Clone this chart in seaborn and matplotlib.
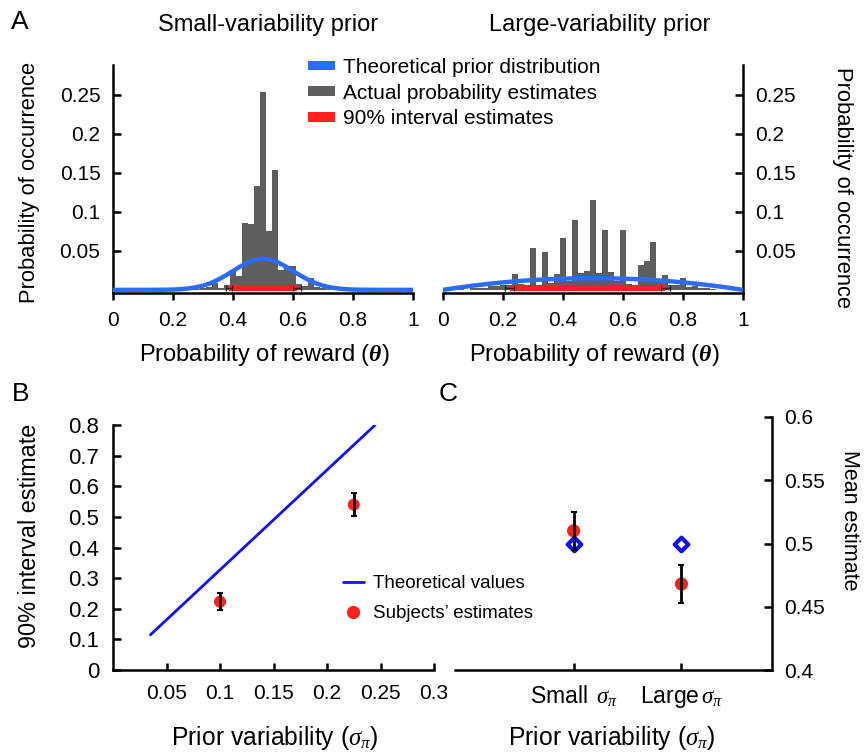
import numpy as np
import pandas as pd
import matplotlib
matplotlib.use("Agg")
import matplotlib.pyplot as plt
from matplotlib.patches import Patch
from matplotlib.lines import Line2D
import seaborn as sns

sns.set_theme(style="white")
plt.rcParams['font.family'] = ['Liberation Sans', 'DejaVu Sans']
plt.rcParams['mathtext.fontset'] = 'custom'
plt.rcParams['mathtext.rm'] = 'Liberation Sans'
plt.rcParams['mathtext.it'] = 'Liberation Serif:italic'
plt.rcParams['mathtext.bf'] = 'Liberation Serif:bold:italic'
plt.rcParams['mathtext.bfit'] = 'Liberation Serif:bold:italic'
for k in ['text.color', 'axes.labelcolor', 'xtick.color', 'ytick.color']:
    plt.rcParams[k] = 'black'

# ---------------- data ----------------
# Panel A: histograms of probability estimates (bin centers, heights)
small_centers = [0.28, 0.30, 0.32, 0.34, 0.36, 0.38, 0.40, 0.42, 0.44, 0.46, 0.48, 0.50,
                 0.52, 0.54, 0.56, 0.58, 0.60, 0.62, 0.64, 0.66, 0.68, 0.70, 0.72]
small_heights = [0.001, 0.002, 0.004, 0.0085, 0.003, 0.006, 0.026, 0.018, 0.086, 0.085, 0.133, 0.253,
                 0.076, 0.153, 0.026, 0.031, 0.031, 0.007, 0.005, 0.015, 0.004, 0.003, 0.001]
large_centers = [0.06, 0.10, 0.12, 0.14, 0.16, 0.18, 0.20, 0.22, 0.24, 0.26, 0.28, 0.30,
                 0.32, 0.34, 0.36, 0.38, 0.40, 0.42, 0.44, 0.46, 0.48, 0.50, 0.52, 0.54,
                 0.56, 0.58, 0.60, 0.62, 0.64, 0.66, 0.68, 0.70, 0.72, 0.74, 0.76, 0.78,
                 0.80, 0.82, 0.84, 0.86, 0.88, 0.90]
large_heights = [0.001, 0.002, 0.003, 0.003, 0.005, 0.005, 0.006, 0.006, 0.020, 0.008, 0.005, 0.054,
                 0.005, 0.048, 0.009, 0.020, 0.066, 0.012, 0.089, 0.022, 0.024, 0.115, 0.022, 0.077,
                 0.023, 0.012, 0.077, 0.008, 0.006, 0.032, 0.037, 0.061, 0.010, 0.019, 0.006, 0.006,
                 0.015, 0.004, 0.005, 0.003, 0.003, 0.001]

# theoretical prior curves
small_prior_x = [0.0, 0.1, 0.125, 0.15, 0.175, 0.2, 0.225, 0.25, 0.275, 0.3, 0.325, 0.35, 0.375,
                 0.4, 0.425, 0.45, 0.475, 0.5, 0.525, 0.55, 0.575, 0.6, 0.625, 0.65, 0.675,
                 0.7, 0.725, 0.75, 0.775, 0.8, 0.825, 0.85, 0.875, 0.9, 1.0]
small_prior_y = [0.0, 0.0, 0.0, 0.0001, 0.0002, 0.0004, 0.0009, 0.0018, 0.0032, 0.0054, 0.0086, 0.0130, 0.0183,
                 0.0242, 0.0301, 0.0352, 0.0387, 0.0399, 0.0387, 0.0352, 0.0301, 0.0242, 0.0183, 0.0130, 0.0086,
                 0.0054, 0.0032, 0.0018, 0.0009, 0.0004, 0.0002, 0.0001, 0.0, 0.0, 0.0]
large_prior_x = [0.0, 0.05, 0.1, 0.15, 0.2, 0.25, 0.3, 0.35, 0.4, 0.45, 0.5,
                 0.55, 0.6, 0.65, 0.7, 0.75, 0.8, 0.85, 0.9, 0.95, 1.0]
large_prior_y = [0.0, 0.00285, 0.0054, 0.00765, 0.0096, 0.01125, 0.0126, 0.01365, 0.0144, 0.01485, 0.015,
                 0.01485, 0.0144, 0.01365, 0.0126, 0.01125, 0.0096, 0.00765, 0.0054, 0.00285, 0.0]

# 90% interval estimates (low, high) with SE of the ends
small_interval = [0.385, 0.612]
small_interval_err = [0.010, 0.013]
large_interval = [0.222, 0.740]
large_interval_err = [0.015, 0.015]

# Panel B
theory_sigma = [0.035, 0.245]
theory_width = [0.115, 0.800]
subj_sigma = [0.100, 0.225]
subj_width = [0.223, 0.540]
subj_width_err = [0.028, 0.038]

# Panel C
c_labels = [r'Small $\,\sigma_\pi$', r'Large$\,\sigma_\pi$']
c_theory = [0.5, 0.5]
c_subj = [0.510, 0.468]
c_subj_err = [0.015, 0.015]

# ---------------- figure ----------------
W, H = 865, 754
fig = plt.figure(figsize=(W / 100, H / 100), dpi=100)

def ax_px(x0, x1, y0, y1):
    return fig.add_axes([x0 / W, 1 - y1 / H, (x1 - x0) / W, (y1 - y0) / H])

BLUE_A = '#2b6cff'
GREY = '#5e5e5e'
RED = '#ff2020'
BLUE_B = '#1010f0'
TICK_FS = 15
LW_SP = 1.8

def style_spines(ax, sides):
    for s in ['left', 'right', 'top', 'bottom']:
        ax.spines[s].set_visible(s in sides)
        ax.spines[s].set_linewidth(LW_SP)
        ax.spines[s].set_color('black')

def draw_hist(ax, centers, heights, px, py, interval, ierr):
    df = pd.DataFrame({'c': centers, 'h': heights})
    lo = round(min(centers) - 0.01, 3)
    hi = round(max(centers) + 0.01, 3)
    sns.histplot(data=df, x='c', weights='h', binwidth=0.02, binrange=(lo, hi), ax=ax,
                 color=GREY, alpha=1, edgecolor='none', linewidth=0, zorder=2)
    sns.lineplot(x=px, y=py, ax=ax, color=BLUE_A, linewidth=3.2, zorder=3)
    sns.lineplot(x=interval, y=[0.0025, 0.0025], ax=ax, color=RED, linewidth=4.5,
                 zorder=4, solid_capstyle='butt')
    ax.errorbar(interval, [0.0025, 0.0025], xerr=ierr, fmt='none', ecolor='#3a1a1a',
                elinewidth=1.0, capsize=2, capthick=1.0, zorder=5)
    ax.set_xlim(0, 1)
    ax.set_ylim(-0.004, 0.288)
    ax.set_xticks([0, 0.2, 0.4, 0.6, 0.8, 1])
    ax.set_xticklabels(['0', '0.2', '0.4', '0.6', '0.8', '1'])
    ax.set_yticks([0.05, 0.1, 0.15, 0.2, 0.25])
    ax.set_yticklabels(['0.05', '0.1', '0.15', '0.2', '0.25'])
    ax.set_xlabel('')
    ax.set_ylabel('')
    ax.tick_params(axis='x', direction='out', length=5, width=LW_SP, pad=8,
                   labelsize=TICK_FS, bottom=True)
    ax.set_facecolor('none')

# Panel A left
axA1 = ax_px(113, 413, 65, 293)
draw_hist(axA1, small_centers, small_heights, small_prior_x, small_prior_y,
          small_interval, small_interval_err)
style_spines(axA1, ['left', 'bottom'])
axA1.tick_params(axis='y', direction='in', length=6, width=LW_SP, pad=9,
                 labelsize=TICK_FS, left=True)

# Panel A right
axA2 = ax_px(443, 743, 65, 293)
draw_hist(axA2, large_centers, large_heights, large_prior_x, large_prior_y,
          large_interval, large_interval_err)
style_spines(axA2, ['right', 'bottom'])
axA2.yaxis.tick_right()
axA2.tick_params(axis='y', direction='in', length=6, width=LW_SP, pad=9,
                 labelsize=TICK_FS, right=True, left=False)

# Panel B
axB = ax_px(113, 434, 425, 670)
sns.lineplot(x=theory_sigma, y=theory_width, ax=axB, color=BLUE_B, linewidth=2.0, zorder=2)
sns.scatterplot(x=subj_sigma, y=subj_width, ax=axB, color=RED, s=75, edgecolor='none', zorder=3)
axB.errorbar(subj_sigma, subj_width, yerr=subj_width_err, fmt='none', ecolor='black',
             elinewidth=2, capsize=2.5, capthick=1.5, zorder=4)
axB.set_xlim(0, 0.3)
axB.set_ylim(0, 0.8)
axB.set_xticks([0.05, 0.1, 0.15, 0.2, 0.25, 0.3])
axB.set_xticklabels(['0.05', '0.1', '0.15', '0.2', '0.25', '0.3'])
axB.set_yticks([0, 0.1, 0.2, 0.3, 0.4, 0.5, 0.6, 0.7, 0.8])
axB.set_yticklabels(['0', '0.1', '0.2', '0.3', '0.4', '0.5', '0.6', '0.7', '0.8'])
style_spines(axB, ['left', 'bottom'])
axB.tick_params(axis='x', direction='in', length=5, width=LW_SP, pad=10,
                labelsize=15, bottom=True)
axB.tick_params(axis='y', direction='in', length=6, width=LW_SP, pad=10,
                labelsize=16, left=True)
axB.set_xlabel('')
axB.set_ylabel('')
axB.set_facecolor('none')

# Panel C
axC = ax_px(455, 772, 417, 670)
xc = [1, 2]
axC.errorbar(xc, c_subj, yerr=c_subj_err, fmt='none', ecolor='black',
             elinewidth=2, capsize=2.5, capthick=1.5, zorder=5)
sns.scatterplot(x=xc, y=c_subj, ax=axC, color=RED, s=90, edgecolor='none', zorder=3)
sns.scatterplot(x=xc, y=c_theory, ax=axC, marker='D', s=48, facecolor='white',
                edgecolor=BLUE_B, linewidth=3.0, zorder=4)
axC.set_xlim(-0.1, 2.84)
axC.set_ylim(0.4, 0.6)
axC.set_xticks(xc)
axC.set_xticklabels(c_labels)
axC.set_yticks([0.4, 0.45, 0.5, 0.55, 0.6])
axC.set_yticklabels(['0.4', '0.45', '0.5', '0.55', '0.6'])
style_spines(axC, ['right', 'bottom'])
axC.yaxis.tick_right()
axC.tick_params(axis='x', direction='in', length=5, width=LW_SP, pad=10,
                labelsize=16.5, bottom=True)
axC.tick_params(axis='y', direction='in', length=6, width=LW_SP, pad=9,
                labelsize=TICK_FS, right=True, left=False)
axC.set_xlabel('')
axC.set_ylabel('')
axC.set_facecolor('none')

# ---------------- texts ----------------
def ftext(x, y, s, **kw):
    fig.text(x / W, 1 - y / H, s, **kw)

ftext(20, 22, 'A', fontsize=19, ha='center', va='center')
ftext(21, 394, 'B', fontsize=19, ha='center', va='center')
ftext(448, 394, 'C', fontsize=19, ha='center', va='center')
ftext(268, 25, 'Small-variability prior', fontsize=17, ha='center', va='center')
ftext(600, 25, 'Large-variability prior', fontsize=17, ha='center', va='center')
ftext(30, 182, 'Probability of occurrence', fontsize=15.8, ha='center', va='center', rotation=90)
ftext(843, 188, 'Probability of occurrence', fontsize=15.8, ha='center', va='center', rotation=270)
ftext(264, 355, r'Probability of reward ($\mathbf{\theta}$)', fontsize=17, ha='center', va='center')
ftext(594, 355, r'Probability of reward ($\mathbf{\theta}$)', fontsize=17, ha='center', va='center')
ftext(30, 536, '90% interval estimate', fontsize=16.8, ha='center', va='center', rotation=90)
ftext(850, 520, 'Mean estimate', fontsize=15.5, ha='center', va='center', rotation=270)
ftext(275, 738, r'Prior variability ($\sigma_\pi$)', fontsize=17.8, ha='center', va='center')
ftext(612, 738, r'Prior variability ($\sigma_\pi$)', fontsize=17.8, ha='center', va='center')

# legends
hA = [Patch(facecolor=BLUE_A, edgecolor='none'),
      Patch(facecolor=GREY, edgecolor='none'),
      Patch(facecolor=RED, edgecolor='none')]
fig.legend(hA, ['Theoretical prior distribution', 'Actual probability estimates',
                '90% interval estimates'],
           loc='upper left', bbox_to_anchor=(308 / W, 1 - 58 / H), frameon=False,
           fontsize=15, handlelength=1.3, handleheight=0.35, handletextpad=0.4,
           labelspacing=0.32, borderpad=0, borderaxespad=0)

hB = [Line2D([0], [0], color=BLUE_B, lw=2.0),
      Line2D([0], [0], marker='o', color='none', markerfacecolor=RED,
             markeredgecolor='none', markersize=9.5)]
fig.legend(hB, ['Theoretical values', "Subjects\u2019 estimates"],
           loc='upper left', bbox_to_anchor=(343 / W, 1 - 575 / H), frameon=False,
           fontsize=13.5, handlelength=1.1, handletextpad=0.5,
           labelspacing=0.7, borderpad=0, borderaxespad=0)

fig.savefig('out.png', dpi=100)
